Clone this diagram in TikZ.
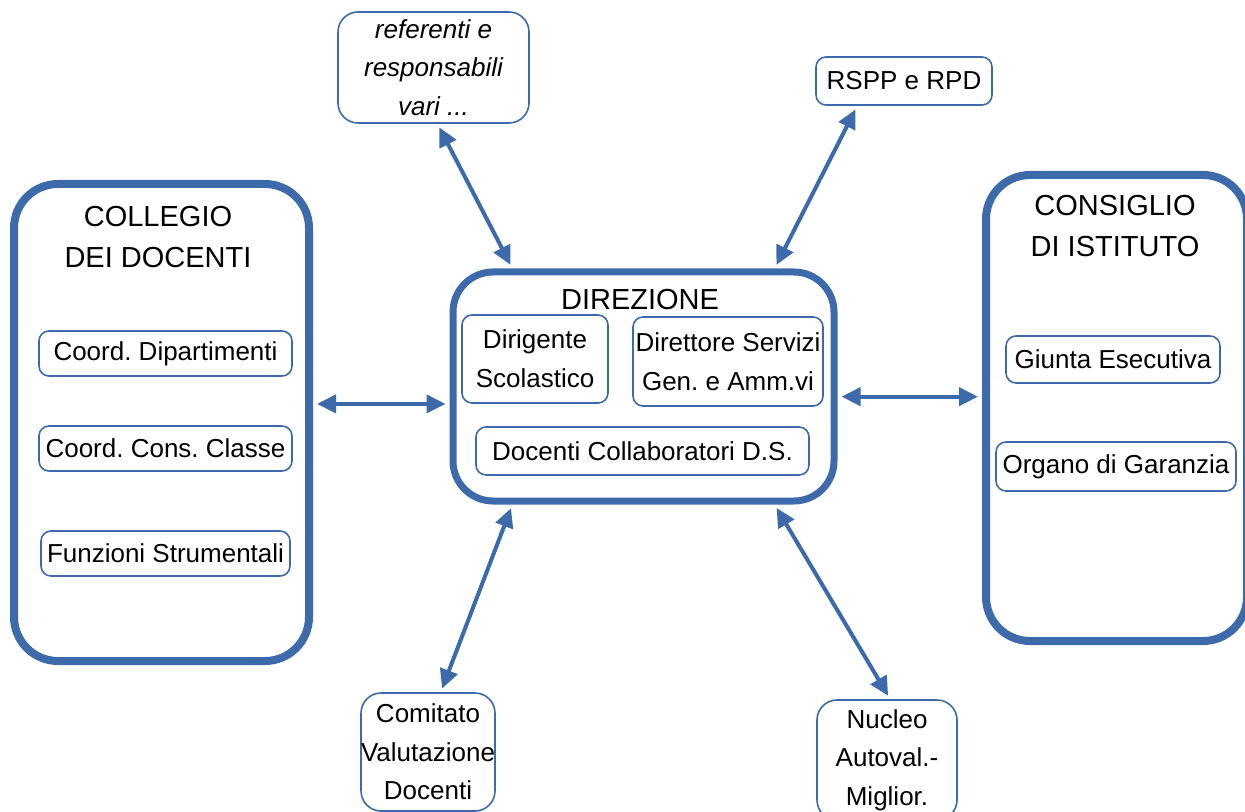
\documentclass[tikz,border=0pt]{standalone}
\usepackage{fontspec}
\setmainfont{Liberation Sans}
\usetikzlibrary{arrows.meta}
\definecolor{bordo}{RGB}{60,106,170}
\frenchspacing
\tikzset{
  gruppo/.style={draw=bordo, line width=4pt, rounded corners=22pt},
  ufficio/.style={draw=bordo, line width=0.8pt, rounded corners=5pt, align=center,
    inner sep=0pt, font=\fontsize{13}{19.3}\selectfont},
  titolo/.style={align=center, font=\fontsize{14.5}{20.5}\selectfont},
  freccia/.style={draw=bordo, line width=2pt,
    {Triangle[length=9.5pt,width=9pt]}-{Triangle[length=9.5pt,width=9pt]},
    shorten <=2pt, shorten >=2pt},
}
\begin{document}
\begin{tikzpicture}[x=0.5pt,y=-0.5pt]
            \useasboundingbox (0,0) rectangle (1245,812);
            \clip (0,0) rectangle (1245,812);

            % collegio
            \node[gruppo, minimum width=147.5pt, minimum height=238.5pt] (collegio) at (161.5,422.5) {};
            \node[titolo] (tcollegio) at (158,237) {COLLEGIO\\DEI DOCENTI};
            \node[ufficio, minimum width=126.5pt, minimum height=22.5pt] (dipart) at (165.5,353.5) {Coord. Dipartimenti};
            \node[ufficio, minimum width=126.5pt, minimum height=22.5pt] (consclasse) at (165.5,448.5) {Coord. Cons. Classe};
            \node[ufficio, minimum width=124.5pt, minimum height=22.5pt] (funzioni) at (165.5,553.5) {Funzioni Strumentali};

            % direzione
            \node[gruppo, line width=3.5pt, rounded corners=20pt, minimum width=190.5pt, minimum height=114.5pt] (direzione) at (643.5,386.5) {};
            \node[titolo] (tdirezione) at (640,300) {DIREZIONE};
            \node[ufficio, minimum width=73pt, minimum height=44pt] (dirigente) at (535,359) {Dirigente\\Scolastico};
            \node[ufficio, minimum width=95pt, minimum height=44.5pt] (dsga) at (728,361.5) {Direttore Servizi\\Gen. e Amm.vi};
            \node[ufficio, minimum width=166.5pt, minimum height=24pt] (collab) at (642.5,451) {Docenti Collaboratori D.S.};

            % consiglio
            \node[gruppo, minimum width=130.5pt, minimum height=233pt] (consiglio) at (1116.5,408) {};
            \node[titolo] (tconsiglio) at (1115,226) {CONSIGLIO\\DI ISTITUTO};
            \node[ufficio, minimum width=107pt, minimum height=23.5pt] (giunta) at (1113,359.5) {Giunta Esecutiva};
            \node[ufficio, minimum width=120pt, minimum height=24.5pt] (garanzia) at (1116,466.5) {Organo di Garanzia};

            % satelliti
            \node[ufficio, rounded corners=10pt, minimum width=95.5pt, minimum height=55.5pt,
              font=\fontsize{13}{19.3}\selectfont\itshape] (referenti) at (433.5,67.5) {referenti e\\responsabili\\vari ...};
            \node[ufficio, minimum width=88pt, minimum height=24pt] (rspp) at (904,81) {RSPP e RPD};
            \node[ufficio, rounded corners=10pt, minimum width=66pt, minimum height=59pt] (comitato) at (428,752) {Comitato\\Valutazione\\Docenti};
            \node[ufficio, rounded corners=10pt, minimum width=70pt, minimum height=60pt] (nucleo) at (887,760) {Nucleo\\Autoval.-\\Miglior.};

            \draw[freccia] (collegio.7.9) to (collegio.7.9 -| direzione.west);
            \draw[freccia] (direzione.-3.1) to (direzione.-3.1 -| consiglio.west);
            \draw[freccia] (referenti.-86.4) to (direzione.138);
            \draw[freccia] (rspp.208.6) to (direzione.42);
            \draw[freccia] (direzione.222.7) to (comitato.78.5);
            \draw[freccia] (direzione.318.6) to (nucleo.87);
        \end{tikzpicture}
\end{document}
